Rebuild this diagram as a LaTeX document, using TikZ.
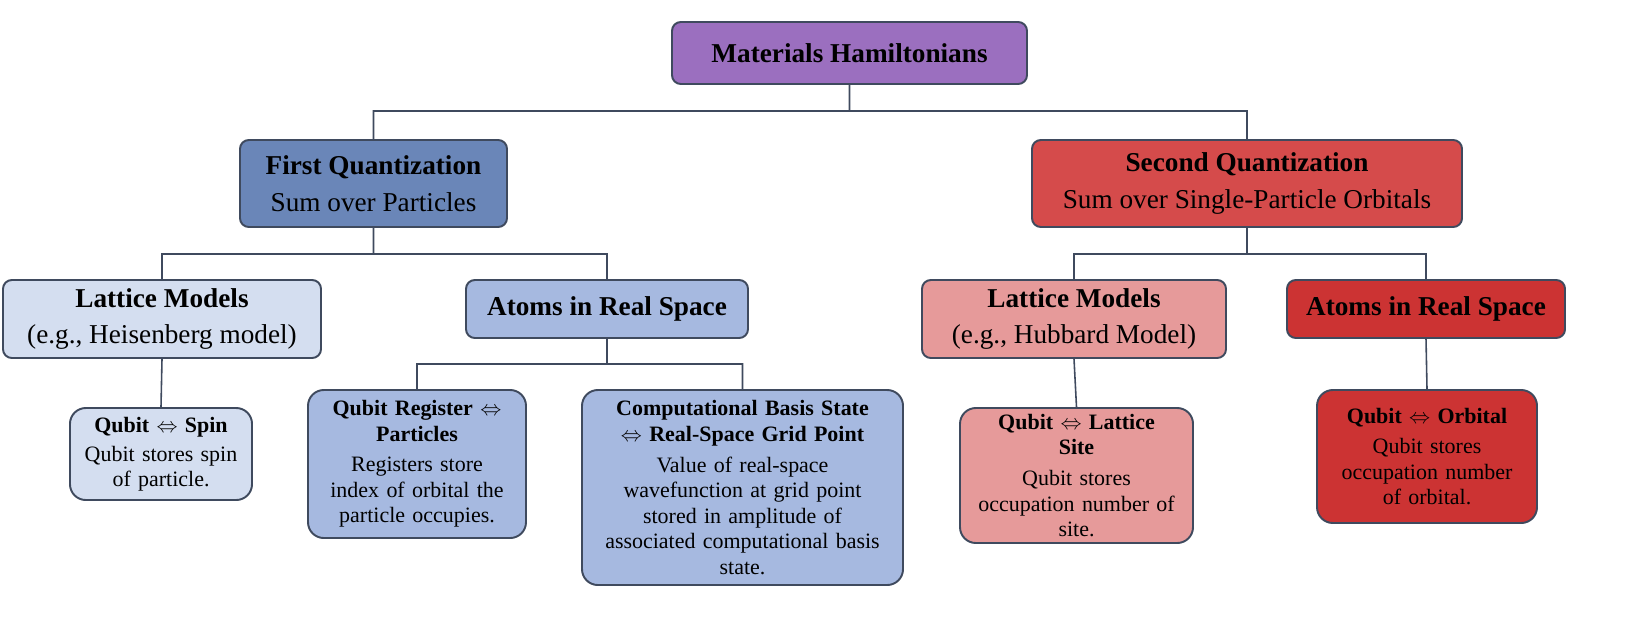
\documentclass[tikz,border=0pt]{standalone}
\usepackage{fontspec}
\setmainfont{Liberation Serif}
\usetikzlibrary{positioning}
\definecolor{mhpurple}{HTML}{9B6FBF}
\definecolor{fqblue}{HTML}{6A86B8}
\definecolor{sqred}{HTML}{D54B4B}
\definecolor{paleblue}{HTML}{D4DEF0}
\definecolor{midblue}{HTML}{A6B9E0}
\definecolor{palered}{HTML}{E69A9A}
\definecolor{deepred}{HTML}{CC3333}
\definecolor{edgegray}{HTML}{3F4A5E}

\begin{document}
\begin{tikzpicture}[line width=1.1pt]
  \tikzstyle{box} = [draw=edgegray, rounded corners=5pt, align=center, inner sep=2pt, font={\fontsize{15.5}{21}\selectfont}]
  \tikzstyle{leaf} = [box, rounded corners=9pt, font={\fontsize{12.5}{14.5}\selectfont}]
  \tikzstyle{link} = [draw=edgegray, line width=0.9pt];

  \useasboundingbox (0,0) rectangle (32.86,-12.78);

  \node[box, fill=mhpurple, minimum width=7.1cm, minimum height=1.24cm] (mh) at (16.99,-1.06) {\textbf{Materials Hamiltonians}};
  \node[box, fill=fqblue, minimum width=5.34cm, minimum height=1.74cm] (fq) at (7.47,-3.67) {\textbf{First Quantization}\\Sum over Particles};
  \node[box, fill=sqred, minimum width=8.6cm, minimum height=1.74cm] (sq) at (24.94,-3.67) {\textbf{Second Quantization}\\Sum over Single-Particle Orbitals};

  \node[box, fill=paleblue, minimum width=6.36cm, minimum height=1.56cm] (lml) at (3.24,-6.38) {\textbf{Lattice Models}\\(e.g., Heisenberg model)};
  \node[box, fill=midblue, minimum width=5.64cm, minimum height=1.16cm] (arl) at (12.14,-6.18) {\textbf{Atoms in Real Space}};
  \node[box, fill=palered, minimum width=6.08cm, minimum height=1.56cm] (lmr) at (21.48,-6.38) {\textbf{Lattice Models}\\(e.g., Hubbard Model)};
  \node[box, fill=deepred, minimum width=5.56cm, minimum height=1.16cm] (arr) at (28.52,-6.18) {\textbf{Atoms in Real Space}};

  \node[leaf, fill=paleblue, minimum width=3.64cm, minimum height=1.84cm, text width=3.5cm] (qs) at (3.22,-9.08) {\textbf{Qubit $\Leftrightarrow$ Spin}\\[2pt]Qubit stores spin\\of particle.};
  \node[leaf, fill=midblue, minimum width=4.36cm, minimum height=2.96cm, text width=4.2cm] (qr) at (8.34,-9.28) {\textbf{Qubit Register $\Leftrightarrow$}\\\textbf{Particles}\\[3pt]Registers store\\index of orbital the\\particle occupies.};
  \node[leaf, fill=midblue, minimum width=6.42cm, minimum height=3.9cm, text width=6.2cm] (cb) at (14.85,-9.75) {\textbf{Computational Basis State}\\\textbf{$\Leftrightarrow$ Real-Space Grid Point}\\[3pt]Value of real-space\\wavefunction at grid point\\stored in amplitude of\\associated computational basis\\state.};
  \node[leaf, fill=palered, minimum width=4.66cm, minimum height=2.7cm, text width=4.5cm] (ql) at (21.53,-9.51) {\textbf{Qubit $\Leftrightarrow$ Lattice}\\\textbf{Site}\\[3pt]Qubit stores\\occupation number of\\site.};
  \node[leaf, fill=deepred, minimum width=4.4cm, minimum height=2.66cm, text width=4.2cm] (qo) at (28.54,-9.13) {\textbf{Qubit $\Leftrightarrow$ Orbital}\\[3pt]Qubit stores\\occupation number\\of orbital.};

  \path[link]
  (mh.south) -- ++(0,-0.52) -| (fq.north)
  (mh.south) -- ++(0,-0.52) -| (sq.north)
  (fq.south) -- ++(0,-0.52) -| (lml.north)
  (fq.south) -- ++(0,-0.52) -| (arl.north)
  (sq.south) -- ++(0,-0.52) -| (lmr.north)
  (sq.south) -- ++(0,-0.52) -| (arr.north)
  (arl.south) -- ++(0,-0.5) -| (qr.north)
  (arl.south) -- ++(0,-0.5) -| (cb.north)
  (lml.south) -- (qs.north)
  (lmr.south) -- (ql.north)
  (arr.south) -- (qo.north);
\end{tikzpicture}
\end{document}
